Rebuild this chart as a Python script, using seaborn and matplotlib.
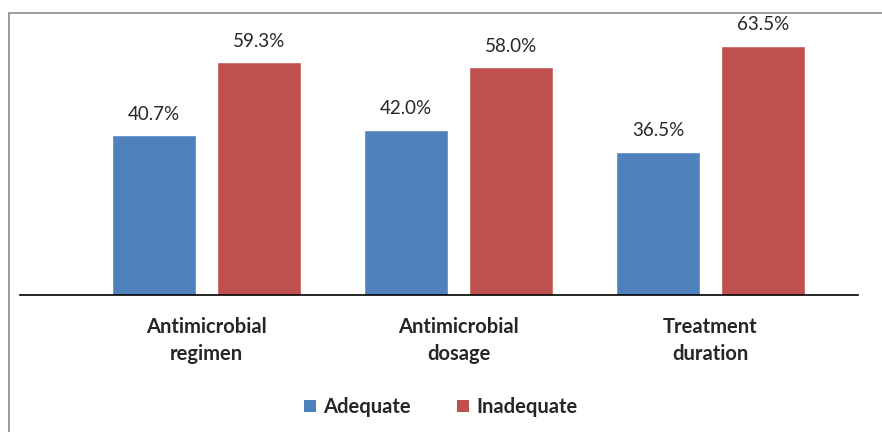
import matplotlib
matplotlib.use("Agg")
import matplotlib.pyplot as plt
import seaborn as sns
import pandas as pd
from matplotlib.patches import Rectangle, Patch

categories = ["Antimicrobial\nregimen", "Antimicrobial\ndosage", "Treatment\nduration"]
adequate = [40.7, 42.0, 36.5]
inadequate = [59.3, 58.0, 63.5]
series = ["Adequate", "Inadequate"]
colors = ["#4F81BD", "#C0504D"]

rows = []
for c, a, b in zip(categories, adequate, inadequate):
    rows.append({"cat": c, "series": series[0], "val": a})
    rows.append({"cat": c, "series": series[1], "val": b})
df = pd.DataFrame(rows)

sns.set_theme(style="white")
plt.rcParams["font.family"] = ["Lato", "DejaVu Sans"]

W, H = 882, 432
fig = plt.figure(figsize=(W / 100, H / 100), dpi=100)
ax = fig.add_axes([20 / W, 1 - 295 / H, (858 - 20) / W, (295 - 20) / H])

sns.barplot(data=df, x="cat", y="val", hue="series", palette=colors,
            width=0.833, gap=0.2, ax=ax, legend=False, saturation=1)

ax.set_xlim(-0.74, 2.585)
ax.set_ylim(0, 70)
for s in ["top", "left", "right"]:
    ax.spines[s].set_visible(False)
ax.spines["bottom"].set_color("black")
ax.spines["bottom"].set_linewidth(1.2)
ax.set_yticks([])
ax.set_xlabel("")
ax.set_ylabel("")
ax.tick_params(axis="x", length=0, pad=16)
for lbl in ax.get_xticklabels():
    lbl.set_fontweight("bold")
    lbl.set_fontsize(14.5)
    lbl.set_color("#262626")
    lbl.set_linespacing(1.4)

for cont in ax.containers:
    ax.bar_label(cont, labels=[f"{v:.1f}%" for v in cont.datavalues],
                 padding=9, fontsize=13.5, color="#262626")

handles = [Patch(facecolor=c, edgecolor="none") for c in colors]
leg = fig.legend(handles, series, loc="center", bbox_to_anchor=(0.5, 1 - 407 / H),
                 ncol=2, frameon=False, handlelength=0.6, handleheight=0.6,
                 handletextpad=0.35, columnspacing=2.3,
                 prop={"weight": "bold", "size": 14.5})
for t in leg.get_texts():
    t.set_color("#262626")

fig.patches.append(Rectangle((9 / W, -0.1), 1.2, 1 - 13 / H + 0.1,
                             transform=fig.transFigure, fill=False,
                             edgecolor="#8c8c8c", linewidth=1.2))

fig.savefig("out.png", dpi=100)
